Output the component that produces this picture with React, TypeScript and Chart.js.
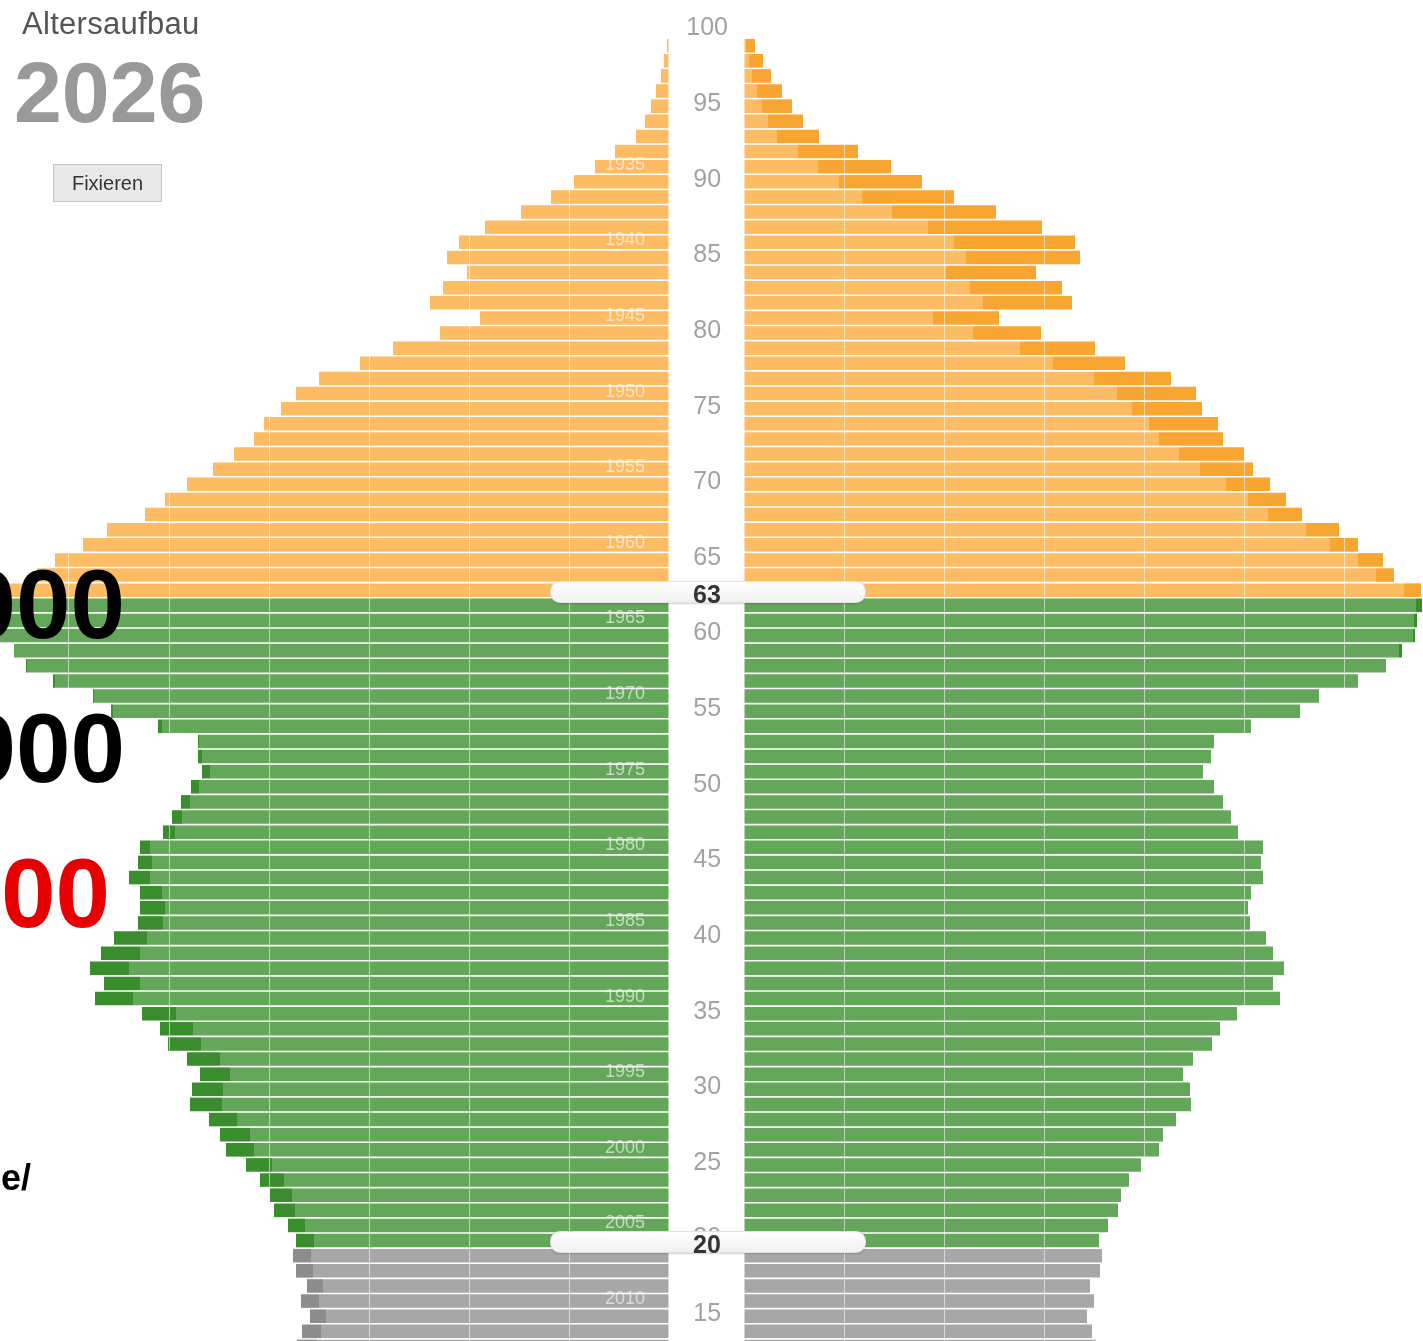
import React, { useEffect, useRef } from 'react';
import { Chart, registerables } from 'chart.js';

Chart.register(...registerables);

// ---------- data (population in thousands, by age) ----------
const YEAR = 2026;
const RETIREMENT_AGE = 63;
const ADULT_AGE = 20;

const AGES = [
  100, 99, 98, 97, 96, 95, 94, 93, 92, 91,
  90, 89, 88, 87, 86, 85, 84, 83, 82, 81,
  80, 79, 78, 77, 76, 75, 74, 73, 72, 71,
  70, 69, 68, 67, 66, 65, 64, 63, 62, 61,
  60, 59, 58, 57, 56, 55, 54, 53, 52, 51,
  50, 49, 48, 47, 46, 45, 44, 43, 42, 41,
  40, 39, 38, 37, 36, 35, 34, 33, 32, 31,
  30, 29, 28, 27, 26, 25, 24, 23, 22, 21,
  20, 19, 18, 17, 16, 15, 14, 13,
];

const MEN = [
  0, 2, 5, 8, 13, 18, 24, 33, 54, 74,
  95, 118, 148, 184, 210, 222, 202, 226, 239, 189,
  229, 276, 309, 350, 373, 388, 405, 415, 435, 456,
  482, 504, 524, 562, 586, 614, 632, 660, 672, 670,
  669, 655, 643, 616, 576, 558, 511, 471, 471, 467,
  478, 488, 497, 506, 529, 531, 540, 529, 529, 531,
  555, 568, 579, 565, 574, 527, 509, 501, 482, 469,
  477, 479, 460, 449, 443, 423, 409, 399, 395, 381,
  373, 376, 373, 362, 368, 359, 367, 372,
];

const WOMEN = [
  0, 11, 19, 27, 38, 48, 59, 75, 114, 147,
  178, 210, 252, 298, 331, 336, 292, 318, 328, 255,
  297, 351, 381, 427, 452, 458, 474, 479, 500, 509,
  526, 542, 558, 595, 614, 639, 650, 677, 678, 673,
  671, 658, 642, 614, 575, 556, 507, 470, 467, 459,
  470, 479, 487, 494, 519, 517, 519, 507, 504, 506,
  522, 529, 540, 529, 536, 493, 476, 468, 449, 439,
  446, 447, 432, 419, 415, 397, 385, 377, 374, 364,
  355, 358, 356, 346, 350, 343, 348, 352,
];

const YEAR_LABEL_FIRST = 1935;
const YEAR_LABEL_LAST = 2010;

// ---------- styling ----------
const FONT = '"Liberation Sans", Arial, Helvetica, sans-serif';
const LIGHT = { old: '#FDBB63', work: '#64A75A', young: '#A7A7A7' };
const DARK = { old: '#F9A532', work: '#3A8D2C', young: '#8D8D8D' };

const TOP_PAD = 23;
const ROW_H = 15.125;
const CHART_H = TOP_PAD + AGES.length * ROW_H;
const LEFT_W = 669;
const AXIS_W = 75;
const RIGHT_W = 1423 - LEFT_W;
const RIGHT_MAX = RIGHT_W - AXIS_W;

const band = (age: number) => (age >= RETIREMENT_AGE ? 'old' : age >= ADULT_AGE ? 'work' : 'young');
const lightColors = AGES.map((a) => LIGHT[band(a)]);
const darkColors = AGES.map((a) => DARK[band(a)]);
const overlap = AGES.map((_, i) => Math.min(MEN[i], WOMEN[i]));
const menExtra = AGES.map((_, i) => MEN[i] - overlap[i]);
const womenExtra = AGES.map((_, i) => WOMEN[i] - overlap[i]);

const gridColor = (ctx: any) =>
  ctx.tick && ctx.tick.value > 0 && ctx.tick.value % 100 === 0 ? 'rgba(255,255,255,0.55)' : 'rgba(0,0,0,0)';

const yearLabels = {
  id: 'yearLabels',
  afterDraw(chart: any) {
    const { ctx, chartArea, scales } = chart;
    ctx.save();
    ctx.font = `18px ${FONT}`;
    ctx.fillStyle = 'rgba(255,255,255,0.6)';
    ctx.textAlign = 'right';
    ctx.textBaseline = 'middle';
    AGES.forEach((age, i) => {
      const year = YEAR - age;
      if (year % 5 !== 0 || year < YEAR_LABEL_FIRST || year > YEAR_LABEL_LAST) return;
      const y = scales.y.getPixelForValue(i);
      ctx.fillText(String(year), chartArea.right - 24, y - 2);
    });
    ctx.restore();
  },
};

const barDs = (label: string, data: number[], colors: string[]) => ({
  label,
  data,
  backgroundColor: colors,
  borderWidth: 0,
  barPercentage: 0.9,
  categoryPercentage: 1,
});

function Pyramid() {
  const leftRef = useRef<HTMLCanvasElement>(null);
  const rightRef = useRef<HTMLCanvasElement>(null);

  useEffect(() => {
    const labels = AGES.map(String);
    const left = new Chart(leftRef.current!, {
      type: 'bar',
      data: {
        labels,
        datasets: [
          barDs('Männer (gemeinsam)', overlap, lightColors),
          barDs('Männerüberschuss', menExtra, darkColors),
        ],
      },
      options: {
        indexAxis: 'y',
        responsive: false,
        animation: false,
        devicePixelRatio: 1,
        layout: { autoPadding: false, padding: { top: TOP_PAD, left: 0, right: 0, bottom: 0 } },
        plugins: { legend: { display: false }, tooltip: { enabled: false } },
        scales: {
          x: {
            reverse: true,
            stacked: true,
            min: 0,
            max: LEFT_W,
            ticks: { display: false, stepSize: 100 },
            grid: { color: gridColor, lineWidth: 1, drawTicks: false, z: 1 },
            border: { display: false },
            afterFit: (s: any) => { s.height = 0; },
          },
          y: { stacked: true, display: false },
        },
      } as any,
      plugins: [yearLabels],
    });

    const right = new Chart(rightRef.current!, {
      type: 'bar',
      data: {
        labels,
        datasets: [
          barDs('Frauen (gemeinsam)', overlap, lightColors),
          barDs('Frauenüberschuss', womenExtra, darkColors),
        ],
      },
      options: {
        indexAxis: 'y',
        responsive: false,
        animation: false,
        devicePixelRatio: 1,
        layout: { autoPadding: false, padding: { top: TOP_PAD, left: 0, right: 0, bottom: 0 } },
        plugins: { legend: { display: false }, tooltip: { enabled: false } },
        scales: {
          x: {
            stacked: true,
            min: 0,
            max: RIGHT_MAX,
            ticks: { display: false, stepSize: 100 },
            grid: { color: gridColor, lineWidth: 1, drawTicks: false, z: 1 },
            border: { display: false },
            afterFit: (s: any) => { s.height = 0; },
          },
          y: {
            stacked: true,
            position: 'left',
            grid: { display: false, drawTicks: false },
            border: { display: false },
            afterFit: (s: any) => {
              s.width = AXIS_W;
              s.paddingTop = 0;
              s.paddingBottom = 0;
            },
            ticks: {
              autoSkip: false,
              padding: 16,
              crossAlign: 'center',
              labelOffset: -2,
              color: '#a2a2a2',
              font: { family: FONT, size: 25 },
              callback: (_v: any, i: number) => (AGES[i] % 5 === 0 ? String(AGES[i]) : ''),
            },
          },
        },
      } as any,
    });

    return () => {
      left.destroy();
      right.destroy();
    };
  }, []);

  return (
    <>
      <canvas
        ref={leftRef}
        width={LEFT_W}
        height={CHART_H}
        style={{ position: 'absolute', left: 0, top: 0, width: LEFT_W, height: CHART_H }}
      />
      <canvas
        ref={rightRef}
        width={RIGHT_W}
        height={CHART_H}
        style={{ position: 'absolute', left: LEFT_W, top: 0, width: RIGHT_W, height: CHART_H }}
      />
    </>
  );
}

const Slider = ({ top, value }: { top: number; value: number }) => (
  <div
    style={{
      position: 'absolute',
      left: 550,
      top,
      width: 316,
      height: 22,
      borderRadius: 10,
      background: 'linear-gradient(#ffffff, #f0f0f0)',
      border: '1px solid #e2e2e2',
      boxShadow: '0 1px 2px rgba(0,0,0,0.18)',
      boxSizing: 'border-box',
      zIndex: 3,
    }}
  >
    <div
      style={{
        position: 'absolute',
        left: 156 - 40,
        width: 80,
        top: 0,
        textAlign: 'center',
        font: `bold 25px ${FONT}`,
        lineHeight: '25px',
        color: '#333',
      }}
    >
      {value}
    </div>
  </div>
);

const bigText = (top: number, text: string, right: number, color: string, size: number) => (
  <div
    style={{
      position: 'absolute',
      left: right - 400,
      width: 400,
      top,
      textAlign: 'right',
      font: `bold ${size}px ${FONT}`,
      lineHeight: `${size}px`,
      color,
      whiteSpace: 'nowrap',
      zIndex: 2,
    }}
  >
    {text}
  </div>
);

export default function App() {
  return (
    <div
      style={{
        position: 'absolute',
        left: 0,
        top: 0,
        width: 1423,
        height: 1341,
        overflow: 'hidden',
        background: '#fff',
        fontFamily: FONT,
      }}
    >
      <Pyramid />

      <div
        style={{
          position: 'absolute',
          left: 22,
          top: 9,
          font: `31px ${FONT}`,
          lineHeight: '30px',
          letterSpacing: '0.3px',
          color: '#555',
          zIndex: 2,
        }}
      >
        Altersaufbau
      </div>
      <div style={{ position: 'absolute', left: 14, top: 49, font: `bold 86px ${FONT}`, lineHeight: '86px', color: '#999', zIndex: 2 }}>
        {YEAR}
      </div>
      <div
        style={{
          position: 'absolute',
          left: 53,
          top: 164,
          width: 109,
          height: 38,
          boxSizing: 'border-box',
          background: '#e8e8e8',
          border: '1px solid #c4c4c4',
          font: `20px ${FONT}`,
          lineHeight: '36px',
          textAlign: 'center',
          color: '#333',
          zIndex: 2,
        }}
      >
        Fixieren
      </div>

      {bigText(555, '000', 125, '#000', 98)}
      {bigText(699, '000', 125, '#000', 98)}
      {bigText(844, '00', 110, '#e60000', 98)}
      {bigText(1160, 'de/', 31, '#000', 36)}

      <Slider top={581} value={RETIREMENT_AGE} />
      <Slider top={1231} value={ADULT_AGE} />
    </div>
  );
}
